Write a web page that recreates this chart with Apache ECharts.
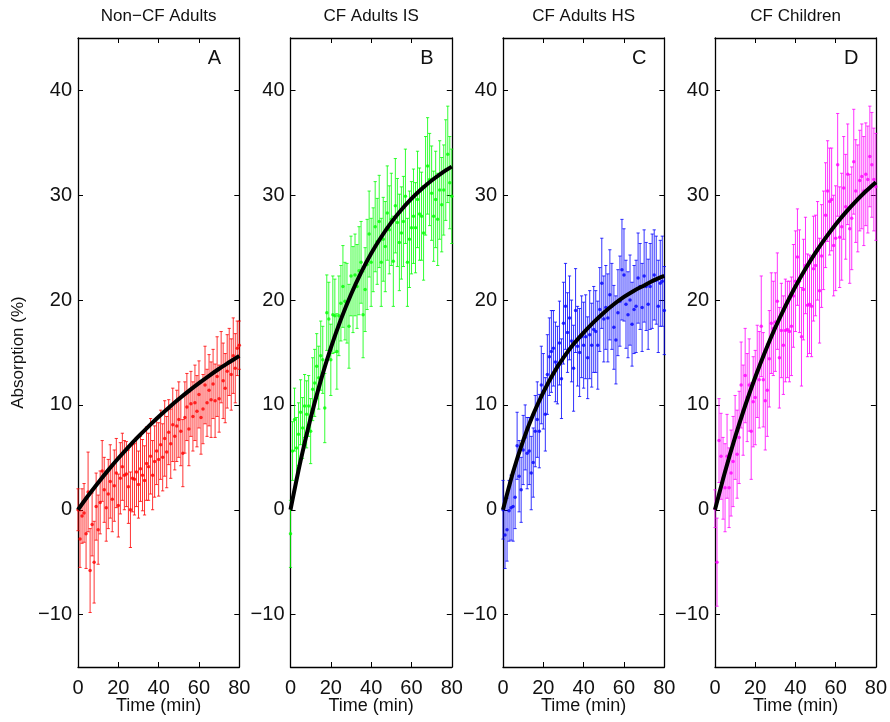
<!DOCTYPE html>
<html><head><meta charset="utf-8">
<script src="https://cdn.jsdelivr.net/npm/echarts@6/dist/echarts.min.js"></script>
<style>html,body{margin:0;padding:0;background:#fff}#c{width:890px;height:722px}</style>
</head><body><div id="c"></div><script>
// ---------------- DATA ----------------
var time = [0,1,2,3,4,5,6,7,8,9,10,11,12,13,14,15,16,17,18,19,20,21,22,23,24,25,26,27,28,29,30,31,32,33,34,35,36,37,38,39,40,41,42,43,44,45,46,47,48,49,50,51,52,53,54,55,56,57,58,59,60,61,62,63,64,65,66,67,68,69,70,71,72,73,74,75,76,77,78,79,80];
var fitTime = [0,5,10,15,20,25,30,35,40,45,50,55,60,65,70,75,80];
var xTicks = [0,20,40,60,80];
var yTicks = [-10,0,10,20,30,40];
var panelTitles = ['Non\u2212CF Adults','CF Adults IS','CF Adults HS','CF Children'];
var panelLetters = ['A','B','C','D'];
var xAxisName = 'Time (min)';
var yAxisName = 'Absorption (%)';

var nonCFMean = [
 0.0,-2.8,-0.6,-0.3,-2.3,1.7,-5.8,-1.4,-5.0,0.3,
 -1.9,0.7,3.7,1.9,0.2,1.5,2.7,1.0,2.3,3.5,
 0.4,3.0,4.1,3.3,3.4,2.2,0.0,3.0,2.9,3.6,
 2.4,3.9,3.3,2.8,4.4,4.1,5.1,3.3,4.6,5.6,
 4.8,6.2,5.0,6.8,5.5,7.4,6.3,8.1,7.0,8.0,
 8.6,7.5,5.4,8.8,9.8,7.7,10.1,8.9,10.2,9.4,
 11.0,8.8,9.6,11.9,10.2,11.4,10.5,12.0,10.4,12.7,
 10.6,13.6,12.3,11.6,13.2,14.1,12.9,14.7,13.5,15.4,
 15.7];
var nonCFErr = [
 2.0,2.7,2.6,2.8,3.3,3.8,4.0,3.0,3.9,3.2,
 3.3,3.0,2.9,3.1,3.2,3.3,3.5,3.1,3.4,3.3,
 3.0,3.4,3.2,3.3,3.1,3.5,3.6,3.2,3.4,3.3,
 3.2,3.1,3.4,3.3,3.5,3.2,3.6,3.3,3.4,3.2,
 3.5,3.3,3.2,3.6,3.4,3.1,3.3,3.5,3.2,3.4,
 3.6,3.3,3.2,3.4,3.2,3.5,3.1,3.3,3.6,3.4,
 3.2,3.5,3.3,3.7,3.2,3.4,3.6,3.3,3.5,3.8,
 3.2,3.4,3.6,3.3,3.5,3.2,3.4,3.6,3.3,2.6,
 2.3];
var nonCFFit = [0,1.33,2.58,3.78,4.91,5.98,6.99,7.96,8.88,9.74,10.56,11.34,12.08,12.78,13.45,14.07,14.68];

var cfISMean = [
 -2.3,5.6,8.6,5.9,7.2,9.3,7.8,9.9,9.1,9.9,
 7.5,11.5,12.1,13.7,12.6,14.7,14.3,9.7,18.8,18.2,
 14.3,18.6,18.5,15.1,18.5,19.7,21.3,19.9,19.7,17.5,
 22.3,21.0,22.4,21.3,22.8,23.6,18.6,21.0,23.4,26.3,
 23.6,24.8,27.0,25.6,27.5,23.6,25.8,25.1,28.3,26.7,
 27.7,23.7,29.0,27.4,25.5,26.4,27.5,29.9,23.6,25.8,
 26.9,28.0,26.9,29.6,28.2,28.0,26.4,30.9,32.8,31.5,
 30.2,28.0,29.6,27.7,30.5,29.1,30.5,32.4,33.9,31.2,
 29.9];
var cfISErr = [
 3.2,2.8,3.0,2.9,3.0,3.1,2.9,3.0,3.2,2.9,
 3.1,3.0,3.2,3.1,3.0,3.3,3.2,3.3,3.6,3.5,
 3.4,3.7,3.5,3.6,3.8,3.6,3.9,3.7,3.8,4.0,
 3.8,4.1,3.9,4.0,4.2,3.9,4.1,4.0,4.3,4.1,
 4.2,4.0,4.3,4.1,4.4,4.2,4.0,4.3,4.5,4.2,
 4.4,4.3,4.5,4.2,4.6,4.4,4.3,4.5,4.2,4.6,
 4.4,4.5,4.3,4.6,4.4,4.2,4.5,4.7,4.6,4.4,
 4.5,4.3,4.6,4.4,4.7,4.5,4.3,4.8,4.6,4.4,
 4.5];
var cfISFit = [0,4.67,8.75,12.32,15.44,18.16,20.54,22.62,24.44,26.02,27.41,28.62,29.68,30.60,31.41,32.12,32.73];

var cfHSMean = [
 0.0,-2.4,-1.9,-0.1,0.2,0.3,1.2,6.1,3.2,1.9,
 5.7,6.9,5.4,5.6,3.5,4.5,7.5,8.6,7.5,11.9,
 11.3,9.1,12.9,14.6,15.1,15.4,14.1,13.8,15.9,12.5,
 17.8,19.4,16.9,18.3,16.1,13.5,19.0,15.6,15.0,16.5,
 15.7,16.5,14.5,16.7,15.7,17.2,17.0,15.7,19.1,21.6,
 18.2,19.3,18.3,20.5,19.4,17.4,16.2,18.8,19.9,22.9,
 22.4,19.6,18.6,20.0,17.7,19.1,19.4,22.1,21.3,19.3,
 22.3,21.3,19.6,21.3,21.8,22.4,21.9,19.4,21.6,21.8,
 19.0];
var cfHSErr = [
 2.8,3.2,3.0,2.9,3.1,3.3,3.0,3.2,3.4,3.1,
 3.3,3.1,3.4,3.2,3.5,3.3,3.4,3.6,3.5,3.7,
 3.6,3.5,3.8,3.7,3.9,3.6,3.8,3.7,4.0,3.8,
 3.9,4.1,3.8,4.0,3.9,4.1,4.0,3.8,4.2,3.9,
 4.1,4.0,3.9,4.2,4.0,4.1,3.9,4.2,4.0,4.3,
 4.1,4.0,4.2,4.3,4.1,4.0,4.2,4.1,4.3,4.8,
 4.4,4.2,4.1,4.3,4.0,4.2,4.4,4.3,4.1,4.2,
 4.4,4.2,4.3,4.1,4.5,4.3,4.2,4.4,4.1,4.3,
 4.2];
var cfHSFit = [0,3.6,6.6,9.1,11.2,13.0,14.5,15.8,16.9,17.9,18.8,19.6,20.3,20.9,21.4,21.9,22.3];

var childMean = [
 0.1,-5.0,6.6,5.1,3.0,2.1,5.1,2.1,3.5,4.6,
 6.9,5.3,6.9,11.9,9.5,12.8,10.7,11.9,7.5,10.3,
 10.7,13.2,12.4,17.5,12.4,10.4,11.4,14.4,17.8,17.3,
 17.9,19.9,14.5,17.1,15.7,17.1,17.2,17.0,17.5,20.4,
 21.8,24.1,21.8,16.5,21.0,23.3,19.5,19.6,19.4,23.0,
 23.3,24.7,20.9,24.2,25.7,28.1,30.4,29.4,29.6,25.2,
 25.9,32.9,26.0,27.0,30.7,28.9,32.0,26.8,27.8,33.2,
 30.4,29.7,31.4,31.8,30.4,32.0,31.5,33.7,32.9,31.5,
 30.8];
var childErr = [
 1.8,4.2,4.0,4.1,3.9,4.2,4.0,3.8,4.1,4.3,
 4.0,4.2,4.4,4.1,4.3,4.5,4.2,4.4,4.6,4.3,
 4.5,4.4,4.6,4.8,4.5,4.7,4.4,4.6,4.8,4.5,
 4.7,4.6,4.8,4.5,4.7,4.9,4.6,4.8,4.7,4.9,
 4.8,4.6,4.9,4.7,4.8,4.6,4.9,4.7,4.8,5.0,
 4.8,4.7,5.0,4.9,4.7,5.0,4.8,5.1,4.9,4.8,
 5.0,4.9,4.8,5.1,4.9,5.0,4.8,5.2,4.9,5.0,
 4.9,5.1,4.8,5.0,5.2,4.9,5.1,4.8,5.0,4.9,
 5.1];
var childFit = [0,3.62,6.92,9.92,12.64,15.12,17.38,19.43,21.29,22.99,24.53,25.93,27.21,28.37,29.42,30.38,31.25];

// ---------------- LAYOUT / STYLE ----------------
var FONT = '"Liberation Sans", Arial, Helvetica, sans-serif';
var gridTop = 38, gridH = 629;
var gridLefts = [78, 290.5, 503, 715];
var gridW = 161.3;
var colors = ['#ff0000', '#00ff00', '#0000ff', '#ff00ff'];
var means = [nonCFMean, cfISMean, cfHSMean, childMean];
var errs = [nonCFErr, cfISErr, cfHSErr, childErr];
var fits = [nonCFFit, cfISFit, cfHSFit, childFit];

var grids = [], xAxes = [], yAxes = [], series = [], graphics = [];
function minusFmt(v){ return String(v).replace('-', '\u2212'); }

for (var i = 0; i < 4; i++) {
  grids.push({left: gridLefts[i], top: gridTop, width: gridW, height: gridH, containLabel: false});
  var axLine = {show: true, onZero: false, lineStyle: {color: '#000', width: 1.3}};
  var tick = {show: true, inside: true, length: 5, lineStyle: {color: '#000', width: 1}};
  xAxes.push({gridIndex: i, type: 'value', min: 0, max: 80, interval: 20, position: 'bottom',
    axisLine: axLine, axisTick: tick, splitLine: {show: false},
    axisLabel: {fontSize: 20, color: '#111', margin: 11, fontFamily: FONT}});
  xAxes.push({gridIndex: i, type: 'value', min: 0, max: 80, interval: 20, position: 'top',
    axisLine: axLine, axisTick: tick, splitLine: {show: false}, axisLabel: {show: false}});
  yAxes.push({gridIndex: i, type: 'value', min: -15, max: 45, position: 'left',
    axisLine: axLine, splitLine: {show: false},
    axisTick: {show: true, inside: true, length: 5, lineStyle: {color: '#000', width: 1}, customValues: yTicks},
    axisLabel: {fontSize: 20, color: '#111', margin: 6, fontFamily: FONT, customValues: yTicks, formatter: minusFmt}});
  yAxes.push({gridIndex: i, type: 'value', min: -15, max: 45, position: 'right',
    axisLine: axLine, splitLine: {show: false},
    axisTick: {show: true, inside: true, length: 5, lineStyle: {color: '#000', width: 1}, customValues: yTicks},
    axisLabel: {show: false, customValues: yTicks}});

  var errData = [], ptData = [], fitData = [];
  for (var k = 0; k < time.length; k++) {
    errData.push([time[k], means[i][k] - errs[i][k], means[i][k] + errs[i][k]]);
    ptData.push([time[k], means[i][k]]);
  }
  for (var k = 0; k < fitTime.length; k++) fitData.push([fitTime[k], fits[i][k]]);

  (function(col){
    series.push({
      type: 'custom', xAxisIndex: 2*i, yAxisIndex: 2*i, data: errData, z: 2, silent: true,
      renderItem: function(params, api){
        var x = api.value(0), lo = api.value(1), hi = api.value(2);
        var a = api.coord([x, hi]), b = api.coord([x, lo]);
        var w = 1.6;
        var st = {stroke: col, lineWidth: 1, opacity: 0.8};
        return {type: 'group', children: [
          {type: 'line', shape: {x1: a[0], y1: a[1], x2: b[0], y2: b[1]}, style: st},
          {type: 'line', shape: {x1: a[0]-w, y1: a[1], x2: a[0]+w, y2: a[1]}, style: st},
          {type: 'line', shape: {x1: b[0]-w, y1: b[1], x2: b[0]+w, y2: b[1]}, style: st}
        ]};
      }
    });
  })(colors[i]);
  series.push({type: 'scatter', xAxisIndex: 2*i, yAxisIndex: 2*i, data: ptData, symbol: 'circle',
    symbolSize: 3.5, itemStyle: {color: colors[i]}, z: 3, silent: true});
  series.push({type: 'line', xAxisIndex: 2*i, yAxisIndex: 2*i, data: fitData, smooth: 0.3,
    showSymbol: false, lineStyle: {color: '#000', width: 4}, z: 5, silent: true});

  var cx = gridLefts[i] + gridW / 2;
  graphics.push({type: 'text', x: cx, y: 16.5, style: {text: panelTitles[i], font: '17px ' + FONT,
    fill: '#111', textAlign: 'center', textVerticalAlign: 'middle'}});
  graphics.push({type: 'text', x: gridLefts[i] + gridW - 25, y: 58.5, style: {text: panelLetters[i], font: '20px ' + FONT,
    fill: '#111', textAlign: 'center', textVerticalAlign: 'middle'}});
  graphics.push({type: 'text', x: cx, y: 706, style: {text: xAxisName, font: '18px ' + FONT,
    fill: '#111', textAlign: 'center', textVerticalAlign: 'middle'}});
}
graphics.push({type: 'text', x: 18, y: 352.5, rotation: Math.PI/2, style: {text: yAxisName, font: '17px ' + FONT,
  fill: '#111', textAlign: 'center', textVerticalAlign: 'middle'}});

var chart = echarts.init(document.getElementById('c'), null, {renderer: 'canvas'});
chart.setOption({
  animation: false,
  backgroundColor: '#fff',
  grid: grids, xAxis: xAxes, yAxis: yAxes, series: series, graphic: graphics
});
</script></body></html>
